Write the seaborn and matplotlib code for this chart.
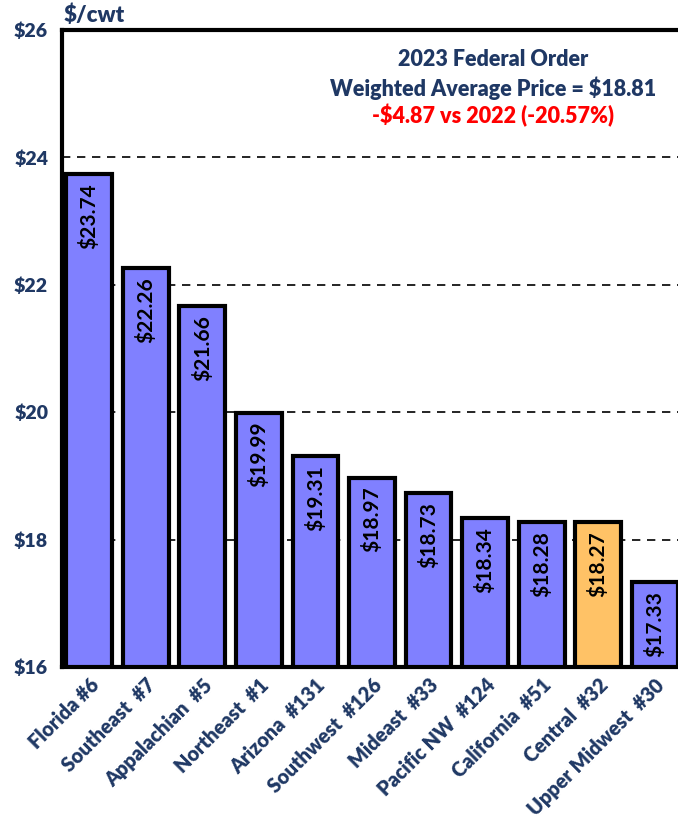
import numpy as np
import pandas as pd
import matplotlib.pyplot as plt
import seaborn as sns

#******************
#   Data
#******************
orders = ["Florida #6", "Southeast  #7", "Appalachian  #5", "Northeast  #1",
          "Arizona  #131", "Southwest  #126", "Mideast  #33", "Pacific NW  #124",
          "California  #51", "Central  #32", "Upper Midwest  #30"]
prices = [23.74, 22.26, 21.66, 19.99, 19.31, 18.97, 18.73, 18.34, 18.28, 18.27, 17.33]
bar_colors = ["#8080FF"] * 9 + ["#FFC266", "#8080FF"]
yticks = [16, 18, 20, 22, 24, 26]

navy = "#1F3864"
fw = "heavy"

#*******************
#   Aesthetics
#*******************
sns.set_style("white")
plt.rcParams["font.family"] = ["Lato", "DejaVu Sans"]
plt.rcParams["font.weight"] = "bold"

df = pd.DataFrame({"order": orders, "price": prices})

fig = plt.figure(figsize=(6.78, 8.21), dpi=100)
ax = fig.add_axes([62 / 678, 154 / 821, 616 / 678, 637 / 821])

for y in yticks[1:-1]:
    ax.axhline(y, color="black", linestyle=(0, (5, 4)), linewidth=1.2, zorder=0)

sns.barplot(data=df, x="order", y="price", hue="order", palette=bar_colors,
            legend=False, width=0.81, edgecolor="black", linewidth=3.0,
            saturation=1, ax=ax, zorder=2)

ax.set_ylim(16, 26)
ax.set_xlim(-0.48, len(orders) - 0.59)
ax.set_yticks(yticks)
ax.set_yticklabels([f"${v}" for v in yticks], color=navy, fontsize=14, fontweight=fw)
ax.set_xticks(range(len(orders)))
ax.set_xticklabels(orders, rotation=45, ha="right", rotation_mode="anchor",
                   color=navy, fontsize=14.3, fontweight=fw)
ax.tick_params(axis="y", length=0, pad=10)
ax.tick_params(axis="x", length=0, pad=6)
ax.set_xlabel("")
ax.set_ylabel("")

for side in ["left", "top", "bottom"]:
    ax.spines[side].set_color("black")
    ax.spines[side].set_linewidth(3.0)
ax.spines["right"].set_visible(False)

# value labels inside bars
for i, v in enumerate(prices):
    ax.text(i, v - 0.14, f"${v:.2f}", rotation=90, ha="center", va="top",
            fontsize=15, fontweight="bold", color="black", zorder=3)

#******************
#   Titles
#******************
fig.text(64 / 678, 1 - 15 / 821, "$/cwt", color=navy, fontsize=16,
         fontweight=fw, ha="left", va="center")
ax.text(0.70, 0.953, "2023 Federal Order", transform=ax.transAxes,
        ha="center", va="center", color=navy, fontsize=15.5, fontweight=fw)
ax.text(0.70, 0.909, "Weighted Average Price = $18.81", transform=ax.transAxes,
        ha="center", va="center", color=navy, fontsize=15.5, fontweight=fw)
ax.text(0.70, 0.865, "-$4.87 vs 2022 (-20.57%)", transform=ax.transAxes,
        ha="center", va="center", color="#FF0000", fontsize=15.5, fontweight=fw)

plt.savefig("out.png", dpi=100)
